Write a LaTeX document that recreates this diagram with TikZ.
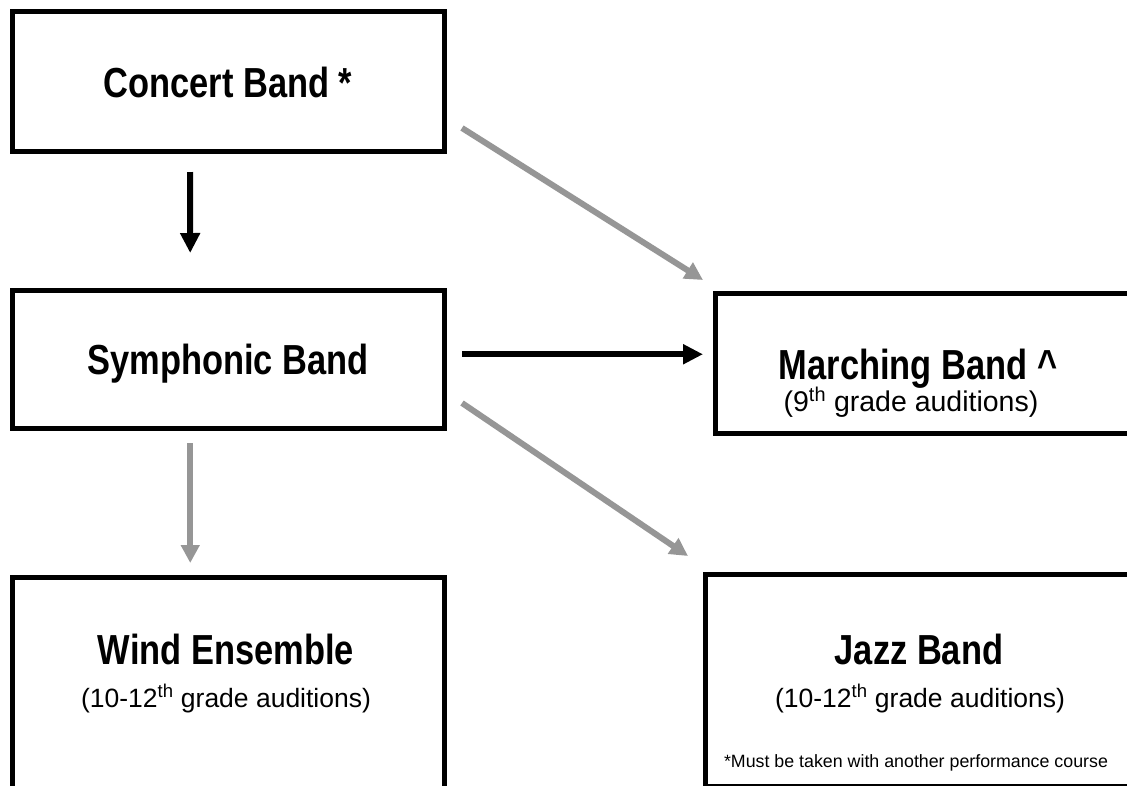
\documentclass[tikz,border=0pt]{standalone}
\usepackage{fontspec}
\setmainfont{Liberation Sans}
\newfontfamily\narrowfont[FakeStretch=0.82]{Liberation Sans}
\usetikzlibrary{arrows.meta,calc}
\definecolor{arrowgray}{RGB}{150,150,150}
\tikzset{
  box/.style={draw=black, line width=5pt, rectangle, inner sep=0pt, outer sep=0pt},
  titletext/.style={anchor=base, inner sep=0pt, font=\narrowfont\bfseries\fontsize{42}{48}\selectfont},
  subtext/.style={anchor=base, inner sep=0pt, font=\fontsize{26.5}{32}\selectfont},
  marchsub/.style={anchor=base, inner sep=0pt, font=\fontsize{28.5}{34}\selectfont},
  foottext/.style={anchor=base, inner sep=0pt, font=\fontsize{17.8}{21}\selectfont},
  blackarrow/.style={draw=black, line width=6pt, -{Triangle[length=20pt,width=19pt]}},
  grayarrow/.style={draw=arrowgray, line width=6pt, -{Triangle[length=18pt,width=18pt]}},
}
\begin{document}
\begin{tikzpicture}[x=1pt,y=-1pt]
\useasboundingbox (0,0) rectangle (1127,785);
\clip (0,0) rectangle (1127,785);
% boxes
\node[box, minimum width=432pt, minimum height=140pt] (concert) at (228,81) {};
\node[box, minimum width=432.5pt, minimum height=138.5pt] (symph) at (228.25,359.25) {};
\node[box, minimum width=415pt, minimum height=140pt] (march) at (922.5,363.5) {};
\node[box, minimum width=424.5pt, minimum height=211.5pt] (jazz) at (917.75,680.25) {};
\node[box, minimum width=432.5pt, minimum height=223pt] (wind) at (228.25,688.5) {};
% texts
\node[titletext] (concertT) at (228,97) {Concert Band *};
\node[titletext] (symphT) at (228,374) {Symphonic Band};
\node[titletext] (marchT) at (918,379) {Marching Band \textasciicircum};
\node[marchsub] (marchS) at (911,411) {(9\textsuperscript{th} grade auditions)};
\node[titletext] (windT) at (226,664) {Wind Ensemble};
\node[subtext] (windS) at (226,707) {(10-12\textsuperscript{th} grade auditions)};
\node[titletext] (jazzT) at (919,664) {Jazz Band};
\node[subtext] (jazzS) at (920,707) {(10-12\textsuperscript{th} grade auditions)};
\node[foottext] (jazzF) at (916,767) {*Must be taken with another performance course};
% connectors
\draw[blackarrow, shorten <=21pt, shorten >=37pt] ([xshift=-38pt]concert.south) -- ([xshift=-38pt]symph.north);
\draw[blackarrow, shorten <=17.5pt, shorten >=12pt] ([yshift=5pt]symph.east) -- ([yshift=5pt]symph.east -| march.west);
\draw[grayarrow] ($(concert.south east)+(18,-23)$) -- ($(march.north west)+(-12,-13.5)$);
\draw[grayarrow] ($(symph.south east)+(17.5,-25.5)$) -- ($(jazz.north west)+(-17.5,-18.5)$);
\draw[grayarrow, shorten <=14.5pt, shorten >=14pt] ([xshift=-38pt]symph.south) -- ([xshift=-38pt]wind.north);
\end{tikzpicture}
\end{document}
